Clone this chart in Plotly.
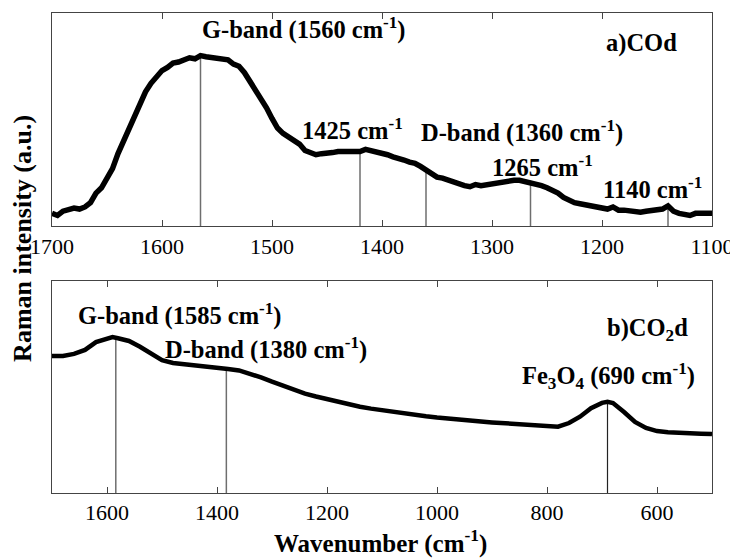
import numpy as np
import plotly.graph_objects as go

# ---- data: panel a) COd ----
wn_a = list(range(1700, 1099, -5))
int_a = [0.06, 0.05, 0.07, 0.075, 0.085, 0.08, 0.09, 0.11, 0.155, 0.18,
         0.23, 0.27, 0.34, 0.40, 0.465, 0.52, 0.575, 0.63, 0.67, 0.70,
         0.73, 0.745, 0.765, 0.77, 0.78, 0.79, 0.785, 0.80, 0.795, 0.79,
         0.79, 0.785, 0.78, 0.76, 0.75, 0.72, 0.68, 0.64, 0.59, 0.555,
         0.505, 0.46, 0.435, 0.42, 0.40, 0.385, 0.355, 0.345, 0.335, 0.34,
         0.34, 0.345, 0.35, 0.35, 0.355, 0.35, 0.35, 0.36, 0.355, 0.35,
         0.34, 0.335, 0.325, 0.32, 0.31, 0.30, 0.295, 0.28, 0.265, 0.245,
         0.23, 0.225, 0.215, 0.205, 0.20, 0.19, 0.185, 0.195, 0.19, 0.195,
         0.20, 0.205, 0.205, 0.21, 0.215, 0.215, 0.21, 0.205, 0.20, 0.19,
         0.18, 0.17, 0.155, 0.135, 0.12, 0.11, 0.105, 0.10, 0.09, 0.085,
         0.085, 0.08, 0.09, 0.075, 0.075, 0.07, 0.07, 0.065, 0.07, 0.075,
         0.075, 0.08, 0.095, 0.07, 0.06, 0.055, 0.05, 0.06, 0.06, 0.055,
         0.06]
peaks_a = [1565, 1420, 1360, 1265, 1140]

# ---- data: panel b) CO2d ----
wn_b = [1700, 1680, 1660, 1640, 1620, 1600, 1590, 1580, 1560, 1540, 1520, 1500,
        1480, 1460, 1440, 1420, 1400, 1380, 1360, 1340, 1320, 1300, 1280,
        1260, 1240, 1220, 1200, 1180, 1160, 1140, 1120, 1100, 1080, 1060,
        1040, 1020, 1000, 980, 960, 940, 920, 900, 880, 860, 840, 820, 800,
        780, 760, 740, 720, 700, 690, 680, 660, 640, 620, 600, 580, 560, 540,
        520, 500]
int_b = [0.646, 0.646, 0.656, 0.675, 0.712, 0.730, 0.735, 0.730, 0.717, 0.690,
         0.660, 0.627, 0.613, 0.608, 0.604, 0.600, 0.594, 0.585, 0.578, 0.564,
         0.545, 0.525, 0.506, 0.487, 0.469, 0.455, 0.442, 0.429, 0.416, 0.407,
         0.398, 0.390, 0.382, 0.375, 0.369, 0.362, 0.356, 0.350, 0.346, 0.341,
         0.337, 0.333, 0.329, 0.324, 0.320, 0.316, 0.312, 0.313, 0.330, 0.360,
         0.400, 0.425, 0.430, 0.424, 0.382, 0.335, 0.307, 0.292, 0.287, 0.283,
         0.281, 0.280, 0.278]
peaks_b = [1584, 1383, 690]

ticks_a = [1700, 1600, 1500, 1400, 1300, 1200, 1100]
ticks_b = [1600, 1400, 1200, 1000, 800, 600]

SERIF = '"Liberation Serif", "Times New Roman", Times, serif'

def vlines(xs, wn, vals):
    x, y = [], []
    order = np.argsort(wn)
    w = np.array(wn)[order]
    v = np.array(vals)[order]
    for p in xs:
        x += [p, p, None]
        y += [0, float(np.interp(p, w, v)), None]
    return x, y

fig = go.Figure()

xa, ya = vlines(peaks_a, wn_a, int_a)
fig.add_trace(go.Scatter(x=xa, y=ya, mode="lines", line=dict(color="#6e6e6e", width=1.5),
                         xaxis="x", yaxis="y", showlegend=False, hoverinfo="skip"))
fig.add_trace(go.Scatter(x=wn_a, y=int_a, mode="lines", line=dict(color="black", width=5.5),
                         xaxis="x", yaxis="y", showlegend=False))

xb, yb = vlines(peaks_b, wn_b, int_b)
fig.add_trace(go.Scatter(x=xb[:6], y=yb[:6], mode="lines", line=dict(color="#6e6e6e", width=1.5),
                         xaxis="x2", yaxis="y2", showlegend=False, hoverinfo="skip"))
fig.add_trace(go.Scatter(x=xb[6:], y=yb[6:], mode="lines", line=dict(color="#222222", width=1.2),
                         xaxis="x2", yaxis="y2", showlegend=False, hoverinfo="skip"))
fig.add_trace(go.Scatter(x=wn_b, y=int_b, mode="lines", line=dict(color="black", width=4.5),
                         xaxis="x2", yaxis="y2", showlegend=False))

axis_common = dict(showline=True, linecolor="#444444", linewidth=1, mirror="ticks",
                   ticks="inside", ticklen=6, tickcolor="#444444", showgrid=False,
                   zeroline=False, tickfont=dict(family=SERIF, size=22, color="black"))
fig.update_layout(
    width=730, height=552,
    margin=dict(l=44, r=26, t=5, b=67),
    plot_bgcolor="white", paper_bgcolor="white",
    font=dict(family=SERIF),
    xaxis=dict(domain=[0, 1], range=[1700, 1100], tickvals=ticks_a, anchor="y",
               ticklabelstandoff=0, **axis_common),
    yaxis=dict(domain=[0.556, 1], range=[0, 1], showticklabels=False, ticks="",
               showline=True, linecolor="#444444", mirror=True, showgrid=False,
               zeroline=False, anchor="x"),
    xaxis2=dict(domain=[0, 1], range=[1700, 500], tickvals=ticks_b, anchor="y2",
                ticklabelstandoff=0, **axis_common),
    yaxis2=dict(domain=[0, 0.4417], range=[0, 1], showticklabels=False, ticks="",
                showline=True, linecolor="#444444", mirror=True, showgrid=False,
                zeroline=False, anchor="x2"),
)

AF = dict(family=SERIF, size=24.5, color="black")
ann = [
    ("x", "y", 1471, 0.925, "<b>G-band (1560 cm<sup>-1</sup>)</b>"),
    ("x", "y", 1427, 0.455, "<b>1425 cm<sup>-1</sup></b>"),
    ("x", "y", 1273, 0.445, "<b>D-band (1360 cm<sup>-1</sup>)</b>"),
    ("x", "y", 1254, 0.28, "<b>1265 cm<sup>-1</sup></b>"),
    ("x", "y", 1154, 0.18, "<b>1140 cm<sup>-1</sup></b>"),
    ("x", "y", 1164, 0.86, "<b>a)COd</b>"),
    ("x2", "y2", 1467, 0.84, "<b>G-band (1585 cm<sup>-1</sup>)</b>"),
    ("x2", "y2", 1311, 0.68, "<b>D-band (1380 cm<sup>-1</sup>)</b>"),
    ("x2", "y2", 618, 0.77, "<b>b)CO<sub>2</sub>d</b>"),
    ("x2", "y2", 689, 0.55, "<b>Fe<sub>3</sub>O<sub>4</sub> (690 cm<sup>-1</sup>)</b>"),
]
for xr, yr, x, y, t in ann:
    fig.add_annotation(xref=xr, yref=yr, x=x, y=y, text=t, showarrow=False,
                       xanchor="center", yanchor="middle", font=AF)

fig.add_annotation(xref="paper", yref="paper", x=0.497, y=-0.102,
                   text="<b>Wavenumber (cm<sup>-1</sup>)</b>", showarrow=False,
                   xanchor="center", yanchor="middle",
                   font=dict(family=SERIF, size=25, color="black"))
fig.add_annotation(xref="paper", yref="paper", x=-0.045, y=0.53,
                   text="<b>Raman intensity (a.u.)</b>", showarrow=False, textangle=-90,
                   xanchor="center", yanchor="middle",
                   font=dict(family=SERIF, size=26, color="black"))

fig.write_html("out.html")
